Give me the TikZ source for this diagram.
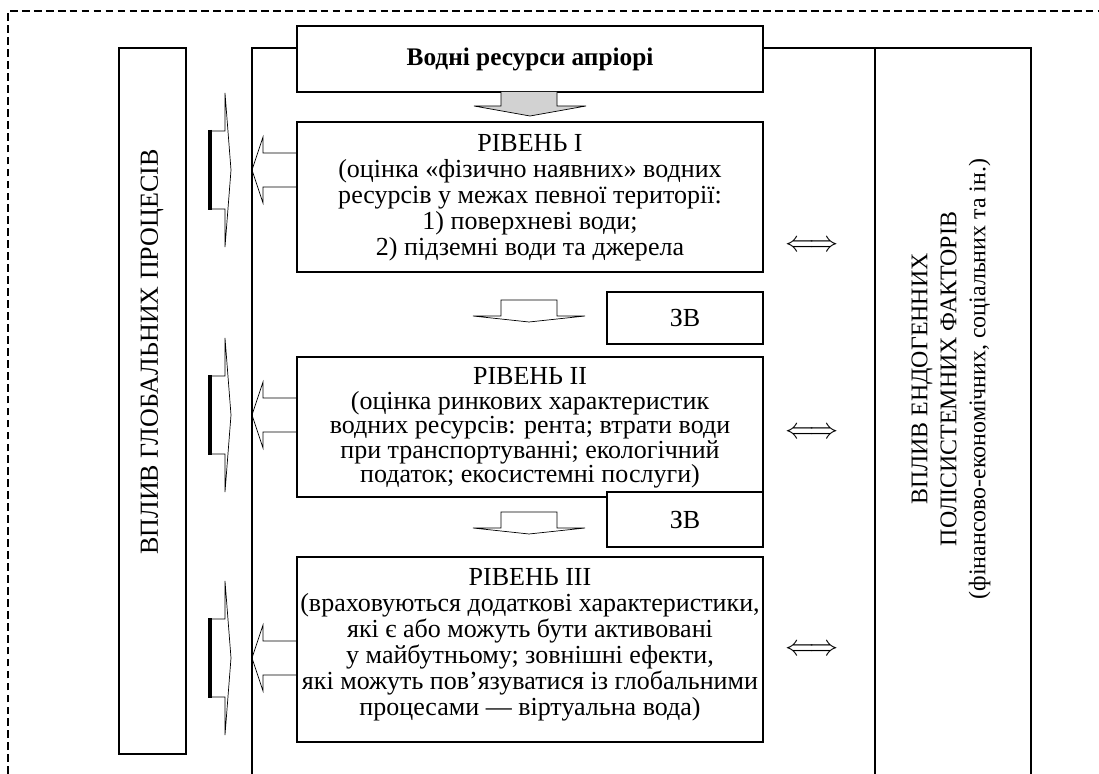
\documentclass[tikz,border=0pt]{standalone}
\usepackage{amsmath,amssymb}
\usepackage{fontspec}
\setmainfont{Liberation Serif}

\begin{document}
\begin{tikzpicture}[x=0.025cm,y=-0.025cm,line width=0.9pt,
  txt/.style={align=center,font=\fontsize{18.5}{18.5}\selectfont},
  arr/.style={line width=0.5pt}]
  \useasboundingbox (0,0) rectangle (1099,774);
  \draw[dash pattern=on 5.5pt off 3pt] (8,774)--(8,11)--(1099,11);
  % frame and columns
  \draw (119,48) rectangle (186,754);
  \node[txt, rotate=90] (glob) at (152,352) {ВПЛИВ ГЛОБАЛЬНИХ ПРОЦЕСІВ};
  \draw (252,774)--(252,48)--(1031,48)--(1031,774);
  \draw (875,48)--(875,774);
  \node[rotate=90, align=center, font=\fontsize{17}{20.6}\selectfont] (endo) at (951,379)
    {ВПЛИВ ЕНДОГЕННИХ\\ПОЛІСИСТЕМНИХ ФАКТОРІВ\\(фінансово-економічних, соціальних та ін.)};
  %
  \filldraw[fill=white] (297,26) rectangle (763,92);
  \node[txt, font=\fontsize{18}{18.5}\selectfont\bfseries] (apr) at (530,59) {Водні ресурси апріорі};
  \filldraw[arr, fill=gray!35] (501,92)--(501,106)--(474,106)--(530,116)--(586,106)--(557,106)--(557,92);
  %
  \draw (297,122) rectangle (763,272);
  \node[txt] (lvlI) at (530,198) {РІВЕНЬ І\\(оцінка «фізично наявних» водних\\ресурсів у межах певної території:\\1) поверхневі води;\\2) підземні води та джерела};
  \draw[arr] (473,316)--(501,316)--(501,300)--(557,300)--(557,316)--(585,316)--(529,322)--cycle;
  \draw (607,292) rectangle (763,344);
  \node[txt] (zvI) at (685,318) {ЗВ};
  %
  \draw (297,357) rectangle (763,497);
  \node[txt, font=\fontsize{18.5}{17.4}\selectfont] (lvlII) at (530,428) {РІВЕНЬ ІІ\\(оцінка ринкових характеристик\\водних ресурсів: рента; втрати води\\при транспортуванні; екологічний\\податок; екосистемні послуги)};
  \filldraw[fill=white] (607,492) rectangle (763,547);
  \node[txt] (zvII) at (685,520) {ЗВ};
  \draw[arr] (473,528)--(501,528)--(501,512)--(557,512)--(557,528)--(585,528)--(529,534)--cycle;
  %
  \draw (297,557) rectangle (763,742);
  \node[txt] (lvlIII) at (530,645) {РІВЕНЬ ІІІ\\(враховуються додаткові характеристики,\\які є або можуть бути активовані\\у майбутньому; зовнішні ефекти,\\які можуть пов’язуватися із глобальними\\процесами — віртуальна вода)};
  %
  \draw[arr] (297,153)--(263,153)--(263,137)--(252,170)--(263,203)--(263,187)--(297,187);
  \draw[arr] (297,398)--(263,398)--(263,382)--(252,415)--(263,448)--(263,432)--(297,432);
  \draw[arr] (297,641)--(263,641)--(263,625)--(252,658)--(263,691)--(263,675)--(297,675);
  %
  \draw[arr] (210,131)--(225,131)--(225,93)--(231,170)--(225,247)--(225,209)--(210,209);
  \draw[line width=2.6pt] (210,130)--(210,210);
  \draw[arr] (210,376)--(225,376)--(225,338)--(231,415)--(225,492)--(225,454)--(210,454);
  \draw[line width=2.6pt] (210,375)--(210,455);
  \draw[arr] (210,619)--(225,619)--(225,581)--(231,658)--(225,735)--(225,697)--(210,697);
  \draw[line width=2.6pt] (210,618)--(210,698);
  %
  \node[font=\fontsize{20.5}{20.5}\selectfont] (dblI) at (812,246) {$\Longleftrightarrow$};
  \node[font=\fontsize{20.5}{20.5}\selectfont] (dblII) at (812,433) {$\Longleftrightarrow$};
  \node[font=\fontsize{20.5}{20.5}\selectfont] (dblIII) at (812,650) {$\Longleftrightarrow$};
\end{tikzpicture}
\end{document}
